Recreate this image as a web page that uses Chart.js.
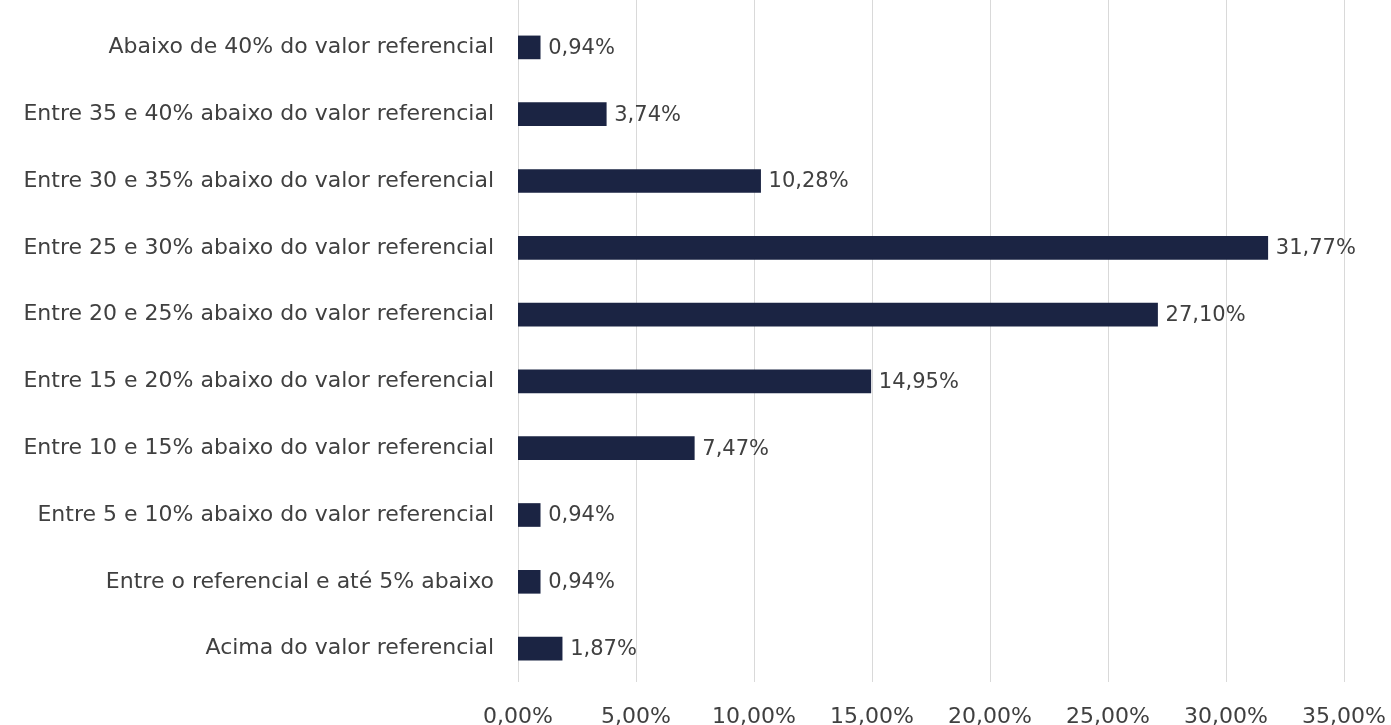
<!DOCTYPE html>
<html lang="pt">
<head>
  <meta charset="UTF-8" />
  <title>Distribuição em relação ao valor referencial</title>
  <script src="https://cdn.jsdelivr.net/npm/chart.js"></script>
  <style>
    html, body { margin: 0; padding: 0; background: #ffffff; }
    .chart-container { position: relative; width: 1391px; height: 725px; }
  </style>
</head>
<body>
<div class="chart-container">
  <canvas id="rangeChart"></canvas>
</div>

<script>
  const categories = [
    'Abaixo de 40% do valor referencial',
    'Entre 35 e 40% abaixo do valor referencial',
    'Entre 30 e 35% abaixo do valor referencial',
    'Entre 25 e 30% abaixo do valor referencial',
    'Entre 20 e 25% abaixo do valor referencial',
    'Entre 15 e 20% abaixo do valor referencial',
    'Entre 10 e 15% abaixo do valor referencial',
    'Entre 5 e 10% abaixo do valor referencial',
    'Entre o referencial e até 5% abaixo',
    'Acima do valor referencial'
  ];
  const shares = [0.94, 3.74, 10.28, 31.77, 27.10, 14.95, 7.47, 0.94, 0.94, 1.87];
  const xTicks = [0, 5, 10, 15, 20, 25, 30, 35];

  const textColor = '#404040';
  const fontFamily = '"DejaVu Sans", sans-serif';
  const fontSize = 22;

  const fmt = v => v.toFixed(2).replace('.', ',') + '%';

  // grid lines run from the top of the canvas down to the axis
  const tallGrid = {
    id: 'tallGrid',
    beforeDatasetsDraw(chart) {
      const { ctx, chartArea, scales } = chart;
      ctx.save();
      ctx.strokeStyle = '#d9d9d9';
      ctx.lineWidth = 1;
      xTicks.forEach(t => {
        const x = Math.round(scales.x.getPixelForValue(t)) + 0.5;
        ctx.beginPath();
        ctx.moveTo(x, 0);
        ctx.lineTo(x, chartArea.bottom);
        ctx.stroke();
      });
      ctx.restore();
    }
  };

  // value labels at the end of each bar
  const barLabels = {
    id: 'barLabels',
    afterDatasetsDraw(chart) {
      const { ctx } = chart;
      const meta = chart.getDatasetMeta(0);
      ctx.save();
      ctx.font = '21px ' + fontFamily;
      ctx.fillStyle = textColor;
      ctx.textBaseline = 'middle';
      meta.data.forEach((bar, i) => {
        ctx.fillText(fmt(shares[i]), bar.x + 8, bar.y + 1);
      });
      ctx.restore();
    }
  };

  new Chart(document.getElementById('rangeChart'), {
    type: 'bar',
    data: {
      labels: categories,
      datasets: [{
        data: shares,
        backgroundColor: '#1b2443',
        barThickness: 23
      }]
    },
    options: {
      indexAxis: 'y',
      responsive: true,
      maintainAspectRatio: false,
      animation: false,
      layout: { padding: { top: 14, right: 47, left: 0, bottom: 0 } },
      plugins: { legend: { display: false }, tooltip: { enabled: false } },
      scales: {
        x: {
          min: 0,
          max: 35,
          afterBuildTicks: axis => { axis.ticks = xTicks.map(v => ({ value: v })); },
          afterFit: axis => {
            axis.height = 43;
            axis.paddingLeft = 0;
            axis.paddingRight = 0;
          },
          grid: { display: false, drawTicks: false },
          border: { display: false },
          ticks: {
            padding: 22,
            color: textColor,
            font: { size: fontSize, family: fontFamily },
            callback: v => fmt(v)
          }
        },
        y: {
          grid: { display: false, drawTicks: false },
          border: { display: false },
          afterFit: axis => {
            axis.width = 518;
            axis.paddingTop = 0;
            axis.paddingBottom = 0;
          },
          ticks: {
            padding: 24,
            color: textColor,
            font: { size: fontSize, family: fontFamily }
          }
        }
      }
    },
    plugins: [tallGrid, barLabels]
  });
</script>
</body>
</html>
